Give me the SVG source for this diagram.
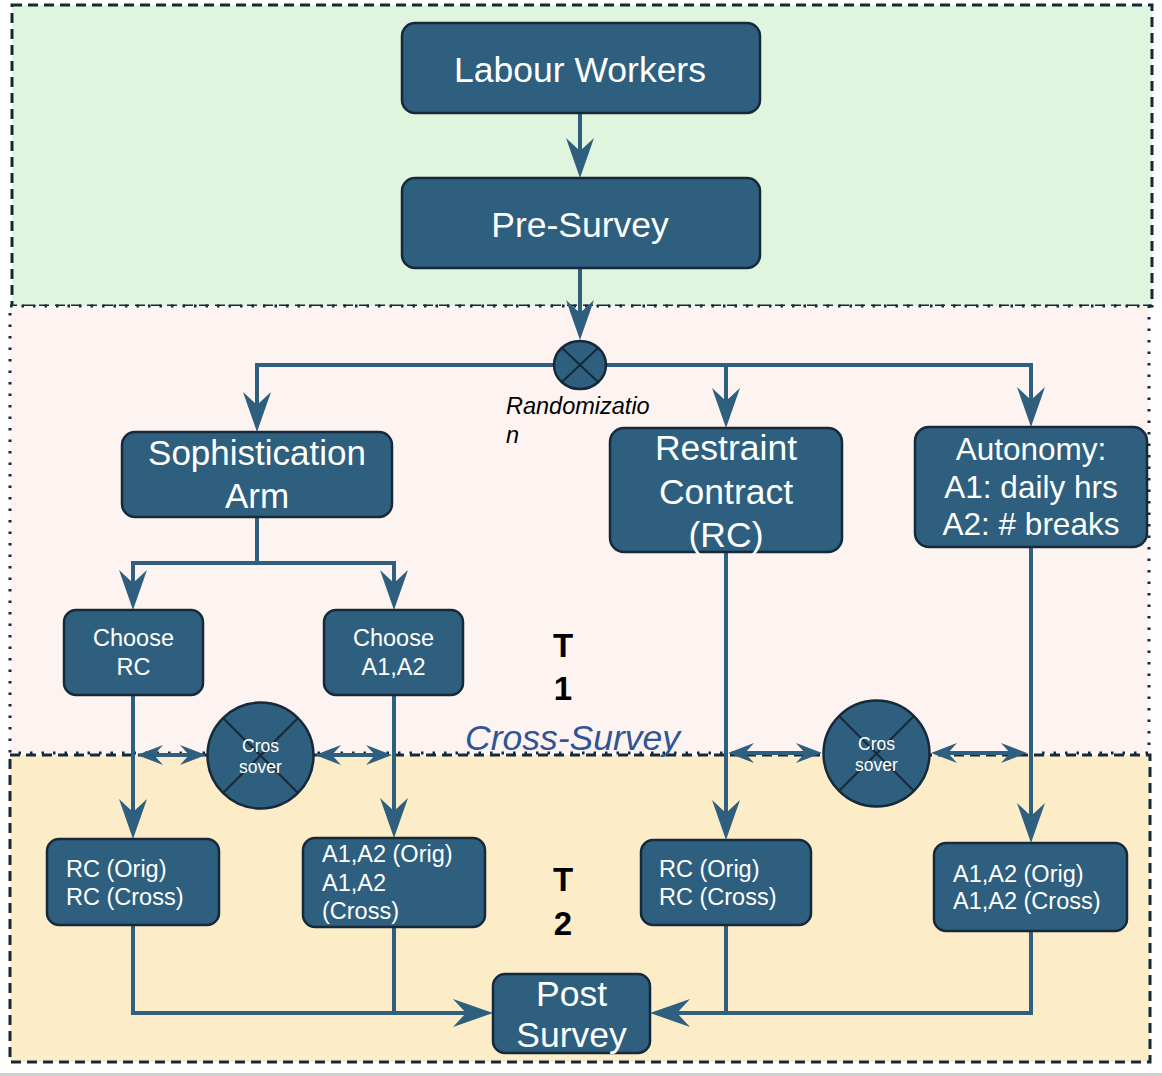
<svg xmlns="http://www.w3.org/2000/svg" width="1162" height="1076" viewBox="0 0 1162 1076">
<style>
.node{fill:#2e5f7e;stroke:#15293a;stroke-width:2.5}
.t{font-family:"Liberation Sans",Arial,sans-serif;fill:#ffffff}
.c{stroke:#2e5f7e;stroke-width:4;fill:none}
.x{stroke:#15293a;stroke-width:2}
.lbl{font-family:"Liberation Sans",Arial,sans-serif}
</style>
<defs>
<marker id="arr" viewBox="0 0 40 28" refX="30" refY="14" markerWidth="40" markerHeight="28" orient="auto-start-reverse" markerUnits="userSpaceOnUse">
<path d="M40,14 L0,0 L13,14 L0,28 Z" fill="#2e5f7e"/>
</marker>
<marker id="sarr" viewBox="0 0 26 20" refX="18" refY="10" markerWidth="26" markerHeight="20" orient="auto-start-reverse" markerUnits="userSpaceOnUse">
<path d="M26,10 L0,0 L9,10 L0,20 Z" fill="#2e5f7e"/>
</marker>
</defs>

<g id="regions">
<rect x="12" y="5" width="1140" height="301" fill="#dff5de" stroke="#15293a" stroke-width="3" stroke-dasharray="10 6"/>
<rect x="10" y="306" width="1139" height="447" fill="#fdf4f1" stroke="#15293a" stroke-width="3" stroke-dasharray="2.5 9"/>
<rect x="10" y="755" width="1140" height="307" fill="#fdecc8" stroke="#15293a" stroke-width="3" stroke-dasharray="10 6"/>
<rect x="0" y="1073" width="1162" height="3" fill="#cfcfcf"/>
</g>

<g id="connectors">
<line class="c" x1="580" y1="113" x2="580" y2="168" marker-end="url(#arr)"/>
<line class="c" x1="580" y1="268" x2="580" y2="330" marker-end="url(#arr)"/>
<polyline class="c" points="257,422 257,365 1031,365 1031,417" marker-start="url(#arr)" marker-end="url(#arr)"/>
<line class="c" x1="726" y1="365" x2="726" y2="418" marker-end="url(#arr)"/>
<polyline class="c" points="257,517 257,563 133,563 133,600" marker-end="url(#arr)"/>
<polyline class="c" points="257,563 394,563 394,600" marker-end="url(#arr)"/>
<line class="c" x1="133" y1="695" x2="133" y2="829" marker-end="url(#arr)"/>
<line class="c" x1="394" y1="695" x2="394" y2="828" marker-end="url(#arr)"/>
<line class="c" x1="726" y1="552" x2="726" y2="830" marker-end="url(#arr)"/>
<line class="c" x1="1031" y1="547" x2="1031" y2="833" marker-end="url(#arr)"/>
<line class="c" x1="145" y1="755" x2="198" y2="755" marker-start="url(#sarr)" marker-end="url(#sarr)"/>
<line class="c" x1="323" y1="755" x2="384" y2="755" marker-start="url(#sarr)" marker-end="url(#sarr)"/>
<line class="c" x1="736" y1="753" x2="814" y2="753" marker-start="url(#sarr)" marker-end="url(#sarr)"/>
<line class="c" x1="939" y1="753" x2="1019" y2="753" marker-start="url(#sarr)" marker-end="url(#sarr)"/>
<polyline class="c" points="133,925 133,1013 483,1013" marker-end="url(#arr)"/>
<line class="c" x1="394" y1="927" x2="394" y2="1013"/>
<polyline class="c" points="1031,931 1031,1013 660,1013" marker-end="url(#arr)"/>
<line class="c" x1="726" y1="925" x2="726" y2="1013"/>
</g>

<g id="labour-workers">
<rect class="node" x="402" y="23" width="358" height="90" rx="13"/>
<text class="t" x="580" y="82" font-size="35.5" text-anchor="middle">Labour Workers</text>
</g>
<g id="pre-survey">
<rect class="node" x="402" y="178" width="358" height="90" rx="13"/>
<text class="t" x="580" y="237" font-size="35.5" text-anchor="middle">Pre-Survey</text>
</g>
<g id="randomization">
<ellipse cx="580" cy="365" rx="26" ry="24" fill="#2e5f7e" stroke="#15293a" stroke-width="2.5"/>
<line class="x" x1="562" y1="348" x2="598" y2="382" stroke="#000"/>
<line class="x" x1="598" y1="348" x2="562" y2="382" stroke="#000"/>
<text class="lbl" x="506" y="414" font-size="23.5" font-style="italic" fill="#000">Randomizatio</text>
<text class="lbl" x="506" y="443" font-size="23.5" font-style="italic" fill="#000">n</text>
</g>
<g id="sophistication-arm">
<rect class="node" x="122" y="432" width="270" height="85" rx="13"/>
<text class="t" x="257" y="465" font-size="35" text-anchor="middle">Sophistication</text>
<text class="t" x="257" y="508" font-size="35" text-anchor="middle">Arm</text>
</g>
<g id="restraint-contract">
<rect class="node" x="610" y="428" width="232" height="124" rx="14"/>
<text class="t" x="726" y="460" font-size="35.5" text-anchor="middle">Restraint</text>
<text class="t" x="726" y="504" font-size="35.5" text-anchor="middle">Contract</text>
<text class="t" x="726" y="547" font-size="35.5" text-anchor="middle">(RC)</text>
</g>
<g id="autonomy">
<rect class="node" x="915" y="427" width="232" height="120" rx="14"/>
<text class="t" x="1031" y="460" font-size="31.5" text-anchor="middle">Autonomy:</text>
<text class="t" x="1031" y="498" font-size="31.5" text-anchor="middle">A1: daily hrs</text>
<text class="t" x="1031" y="535" font-size="31.5" text-anchor="middle">A2: # breaks</text>
</g>
<g id="choose-rc">
<rect class="node" x="64" y="610" width="139" height="85" rx="12"/>
<text class="t" x="133.5" y="646" font-size="23.5" text-anchor="middle">Choose</text>
<text class="t" x="133.5" y="675" font-size="23.5" text-anchor="middle">RC</text>
</g>
<g id="choose-a1a2">
<rect class="node" x="324" y="610" width="139" height="85" rx="12"/>
<text class="t" x="393.5" y="646" font-size="23.5" text-anchor="middle">Choose</text>
<text class="t" x="393.5" y="675" font-size="23.5" text-anchor="middle">A1,A2</text>
</g>
<g id="crossover-left">
<circle cx="260.5" cy="755.5" r="53" fill="#2e5f7e" stroke="#15293a" stroke-width="2.5"/>
<line class="x" x1="223" y1="718" x2="298" y2="793"/>
<line class="x" x1="298" y1="718" x2="223" y2="793"/>
<text class="t" x="260.5" y="752" font-size="17.5" text-anchor="middle">Cros</text>
<text class="t" x="260.5" y="773" font-size="17.5" text-anchor="middle">sover</text>
</g>
<g id="crossover-right">
<circle cx="876.5" cy="753.5" r="53" fill="#2e5f7e" stroke="#15293a" stroke-width="2.5"/>
<line class="x" x1="839" y1="716" x2="914" y2="791"/>
<line class="x" x1="914" y1="716" x2="839" y2="791"/>
<text class="t" x="876.5" y="750" font-size="17.5" text-anchor="middle">Cros</text>
<text class="t" x="876.5" y="771" font-size="17.5" text-anchor="middle">sover</text>
</g>
<g id="rc-orig-left">
<rect class="node" x="47" y="839" width="172" height="86" rx="12"/>
<text class="t" x="66" y="877" font-size="23.5">RC (Orig)</text>
<text class="t" x="66" y="905" font-size="23.5">RC (Cross)</text>
</g>
<g id="a1a2-orig-left">
<rect class="node" x="303" y="838" width="182" height="89" rx="12"/>
<text class="t" x="322" y="862" font-size="23.5">A1,A2 (Orig)</text>
<text class="t" x="322" y="891" font-size="23.5">A1,A2</text>
<text class="t" x="322" y="919" font-size="23.5">(Cross)</text>
</g>
<g id="rc-orig-right">
<rect class="node" x="641" y="840" width="170" height="85" rx="12"/>
<text class="t" x="659" y="877" font-size="23.5">RC (Orig)</text>
<text class="t" x="659" y="905" font-size="23.5">RC (Cross)</text>
</g>
<g id="a1a2-orig-right">
<rect class="node" x="934" y="843" width="193" height="88" rx="12"/>
<text class="t" x="953" y="882" font-size="23.5">A1,A2 (Orig)</text>
<text class="t" x="953" y="909" font-size="23.5">A1,A2 (Cross)</text>
</g>
<g id="post-survey">
<rect class="node" x="493" y="974" width="157" height="79" rx="12"/>
<text class="t" x="571.5" y="1006" font-size="35.5" text-anchor="middle">Post</text>
<text class="t" x="571.5" y="1047" font-size="35.5" text-anchor="middle">Survey</text>
</g>
<g id="labels">
<text class="lbl" x="563" y="657" font-size="33" font-weight="bold" text-anchor="middle" fill="#000">T</text>
<text class="lbl" x="563" y="700" font-size="33" font-weight="bold" text-anchor="middle" fill="#000">1</text>
<text class="lbl" x="563" y="891" font-size="33" font-weight="bold" text-anchor="middle" fill="#000">T</text>
<text class="lbl" x="563" y="935" font-size="33" font-weight="bold" text-anchor="middle" fill="#000">2</text>
<text class="lbl" x="465" y="750" font-size="35.5" font-style="italic" fill="#2f5597">Cross-Survey</text>
</g>
</svg>
